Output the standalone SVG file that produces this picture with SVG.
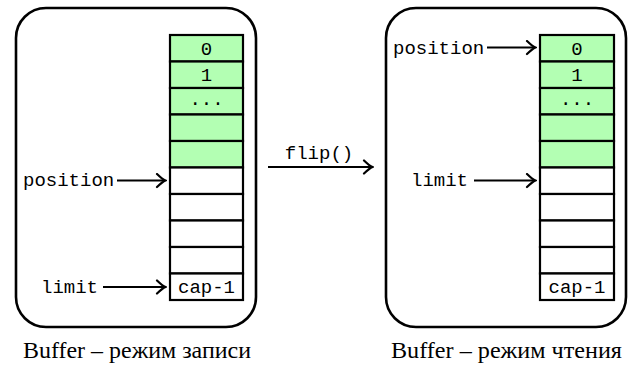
<svg xmlns="http://www.w3.org/2000/svg" width="629" height="365" viewBox="0 0 629 365">
<style>
.box{fill:#fff;stroke:#000;stroke-width:2.6}
.cell{stroke:#000;stroke-width:2.2}
.g{fill:#b3ffb3}
.w{fill:#fff}
.mono{font-family:"Liberation Mono","DejaVu Sans Mono",monospace;font-size:19px;fill:#000}
.cap{font-family:"Liberation Serif","DejaVu Serif",serif;font-size:23px;fill:#000}
.arr{stroke:#000;stroke-width:2.2;fill:none;marker-end:url(#to)}
</style>
<defs>
<marker id="to" viewBox="-10 -8 12 16" refX="0" refY="0" markerWidth="12" markerHeight="16" markerUnits="userSpaceOnUse" orient="auto">
<path d="M-8,-6.5 Q-2.5,-1.2 0.5,0 Q-2.5,1.2 -8,6.5" fill="none" stroke="#000" stroke-width="2.2" stroke-linecap="round"/>
</marker>
</defs>
<g id="buffer-write">
<rect class="box" x="16" y="8" width="240" height="319" rx="30"/>
<rect class="cell g" x="170" y="35" width="73" height="26.5"/>
<rect class="cell g" x="170" y="61.5" width="73" height="26.5"/>
<rect class="cell g" x="170" y="88" width="73" height="26.5"/>
<rect class="cell g" x="170" y="114.5" width="73" height="26.5"/>
<rect class="cell g" x="170" y="141" width="73" height="26.5"/>
<rect class="cell w" x="170" y="167.5" width="73" height="26.5"/>
<rect class="cell w" x="170" y="194" width="73" height="26.5"/>
<rect class="cell w" x="170" y="220.5" width="73" height="26.5"/>
<rect class="cell w" x="170" y="247" width="73" height="26.5"/>
<rect class="cell w" x="170" y="273.5" width="73" height="26.5"/>
<text class="mono" x="206.5" y="54.5" text-anchor="middle">0</text>
<text class="mono" x="206.5" y="81" text-anchor="middle">1</text>
<text class="mono" x="206.5" y="105" text-anchor="middle">...</text>
<text class="mono" x="206.5" y="293" text-anchor="middle">cap-1</text>
<text class="mono" x="23" y="186">position</text>
<text class="mono" x="41" y="293">limit</text>
</g>
<g id="buffer-read">
<rect class="box" x="386" y="8" width="240" height="319" rx="30"/>
<rect class="cell g" x="540" y="35" width="74" height="26.5"/>
<rect class="cell g" x="540" y="61.5" width="74" height="26.5"/>
<rect class="cell g" x="540" y="88" width="74" height="26.5"/>
<rect class="cell g" x="540" y="114.5" width="74" height="26.5"/>
<rect class="cell g" x="540" y="141" width="74" height="26.5"/>
<rect class="cell w" x="540" y="167.5" width="74" height="26.5"/>
<rect class="cell w" x="540" y="194" width="74" height="26.5"/>
<rect class="cell w" x="540" y="220.5" width="74" height="26.5"/>
<rect class="cell w" x="540" y="247" width="74" height="26.5"/>
<rect class="cell w" x="540" y="273.5" width="74" height="26.5"/>
<text class="mono" x="577" y="54.5" text-anchor="middle">0</text>
<text class="mono" x="577" y="81" text-anchor="middle">1</text>
<text class="mono" x="577" y="105" text-anchor="middle">...</text>
<text class="mono" x="577" y="293" text-anchor="middle">cap-1</text>
<text class="mono" x="393" y="54">position</text>
<text class="mono" x="411" y="186">limit</text>
</g>
<g id="connectors">
<line class="arr" x1="117" y1="180.5" x2="165" y2="180.5"/>
<line class="arr" x1="103" y1="287" x2="165" y2="287"/>
<line class="arr" x1="487" y1="47.5" x2="535" y2="47.5"/>
<line class="arr" x1="474" y1="180.5" x2="535" y2="180.5"/>
<line class="arr" x1="268" y1="167" x2="372" y2="167"/>
<text class="mono" x="319" y="159" text-anchor="middle">flip()</text>
</g>
<g id="captions">
<text class="cap" x="137" y="357.5" text-anchor="middle" textLength="228" lengthAdjust="spacingAndGlyphs">Buffer – режим записи</text>
<text class="cap" x="506.5" y="357.5" text-anchor="middle" textLength="231" lengthAdjust="spacingAndGlyphs">Buffer – режим чтения</text>
</g>
</svg>
